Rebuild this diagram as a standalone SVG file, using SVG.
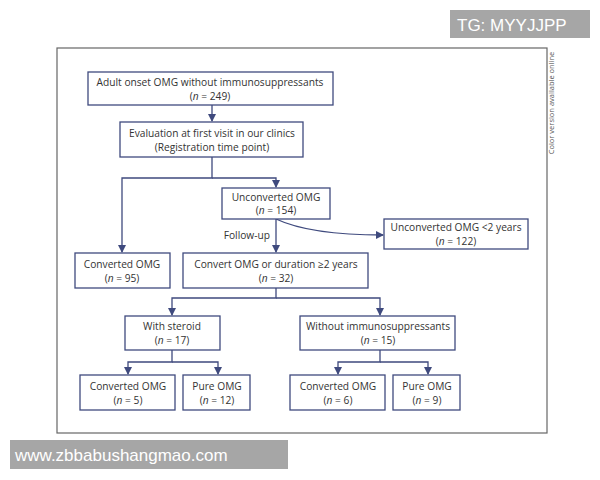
<svg xmlns="http://www.w3.org/2000/svg" width="600" height="480" viewBox="0 0 600 480">
<style>
.b{fill:#fff;stroke:#3f4a7e;stroke-width:1.3}
.c{fill:none;stroke:#3f4a7e;stroke-width:1.3}
text{font-family:"Open Sans","DejaVu Sans",sans-serif;font-size:10.2px;fill:#333;text-anchor:middle}
.wm{font-family:"Liberation Sans",Arial,sans-serif;font-size:17px;fill:#fff;text-anchor:start}
</style>
<defs><marker id="a" markerWidth="8" markerHeight="8" refX="7" refY="4" orient="auto" markerUnits="userSpaceOnUse"><path d="M0,0L8,4L0,8z" fill="#3f4a7e"/></marker></defs>
<rect width="600" height="480" fill="#fff"/>
<rect x="57" y="48" width="490" height="385" fill="none" stroke="#666" stroke-width="1.2"/>
<text x="554" y="103" transform="rotate(-90 554 103)" style="font-size:7.5px;fill:#555">Color version available online</text>
<g id="tg"><rect x="450" y="10" width="140" height="28" fill="#a6a6a6"/><text class="wm" x="457" y="31">TG: MYYJJPP</text></g>
<g id="wmark"><rect x="10" y="440" width="278" height="29" fill="#a6a6a6"/><text class="wm" x="15" y="461">www.zbbabushangmao.com</text></g>
<g id="connectors">
<path class="c" d="M212,105V121" marker-end="url(#a)"/>
<path class="c" d="M212,157V178H122V252" marker-end="url(#a)"/>
<path class="c" d="M212,178H276V187" marker-end="url(#a)"/>
<path class="c" d="M276,219V252" marker-end="url(#a)"/>
<path class="c" d="M276,219Q310,235 383,235" marker-end="url(#a)"/>
<text x="270" y="239" style="text-anchor:end">Follow-up</text>
<path class="c" d="M276,288V298H172V315" marker-end="url(#a)"/>
<path class="c" d="M276,298H380V315" marker-end="url(#a)"/>
<path class="c" d="M172,350V362H128V374" marker-end="url(#a)"/>
<path class="c" d="M172,362H218V374" marker-end="url(#a)"/>
<path class="c" d="M380,350V362H338V374" marker-end="url(#a)"/>
<path class="c" d="M380,362H428V374" marker-end="url(#a)"/>
</g>
<g id="n1"><rect class="b" x="88" y="72" width="245" height="33"/><text x="210" y="86">Adult onset OMG without immunosuppressants</text><text x="210" y="100">(<tspan font-style="italic">n</tspan> = 249)</text></g>
<g id="n2"><rect class="b" x="120" y="122" width="183" height="35"/><text x="212" y="137">Evaluation at first visit in our clinics</text><text x="212" y="151">(Registration time point)</text></g>
<g id="n3"><rect class="b" x="222" y="188" width="108" height="31"/><text x="276" y="201">Unconverted OMG</text><text x="276" y="214">(<tspan font-style="italic">n</tspan> = 154)</text></g>
<g id="n4"><rect class="b" x="384" y="219" width="144" height="30"/><text x="456" y="231">Unconverted OMG &lt;2 years</text><text x="456" y="245">(<tspan font-style="italic">n</tspan> = 122)</text></g>
<g id="n5"><rect class="b" x="75" y="253" width="95" height="35"/><text x="122" y="268">Converted OMG</text><text x="122" y="282">(<tspan font-style="italic">n</tspan> = 95)</text></g>
<g id="n6"><rect class="b" x="183" y="253" width="185" height="35"/><text x="276" y="268">Convert OMG or duration ≥2 years</text><text x="276" y="282">(<tspan font-style="italic">n</tspan> = 32)</text></g>
<g id="n7"><rect class="b" x="125" y="316" width="95" height="34"/><text x="172" y="330">With steroid</text><text x="172" y="344">(<tspan font-style="italic">n</tspan> = 17)</text></g>
<g id="n8"><rect class="b" x="300" y="316" width="155" height="34"/><text x="378" y="330">Without immunosuppressants</text><text x="378" y="344">(<tspan font-style="italic">n</tspan> = 15)</text></g>
<g id="n9"><rect class="b" x="80" y="375" width="95" height="35"/><text x="128" y="390">Converted OMG</text><text x="128" y="404">(<tspan font-style="italic">n</tspan> = 5)</text></g>
<g id="n10"><rect class="b" x="183" y="375" width="67" height="35"/><text x="217" y="390">Pure OMG</text><text x="217" y="404">(<tspan font-style="italic">n</tspan> = 12)</text></g>
<g id="n11"><rect class="b" x="290" y="375" width="95" height="35"/><text x="338" y="390">Converted OMG</text><text x="338" y="404">(<tspan font-style="italic">n</tspan> = 6)</text></g>
<g id="n12"><rect class="b" x="393" y="375" width="67" height="35"/><text x="427" y="390">Pure OMG</text><text x="427" y="404">(<tspan font-style="italic">n</tspan> = 9)</text></g>
</svg>
